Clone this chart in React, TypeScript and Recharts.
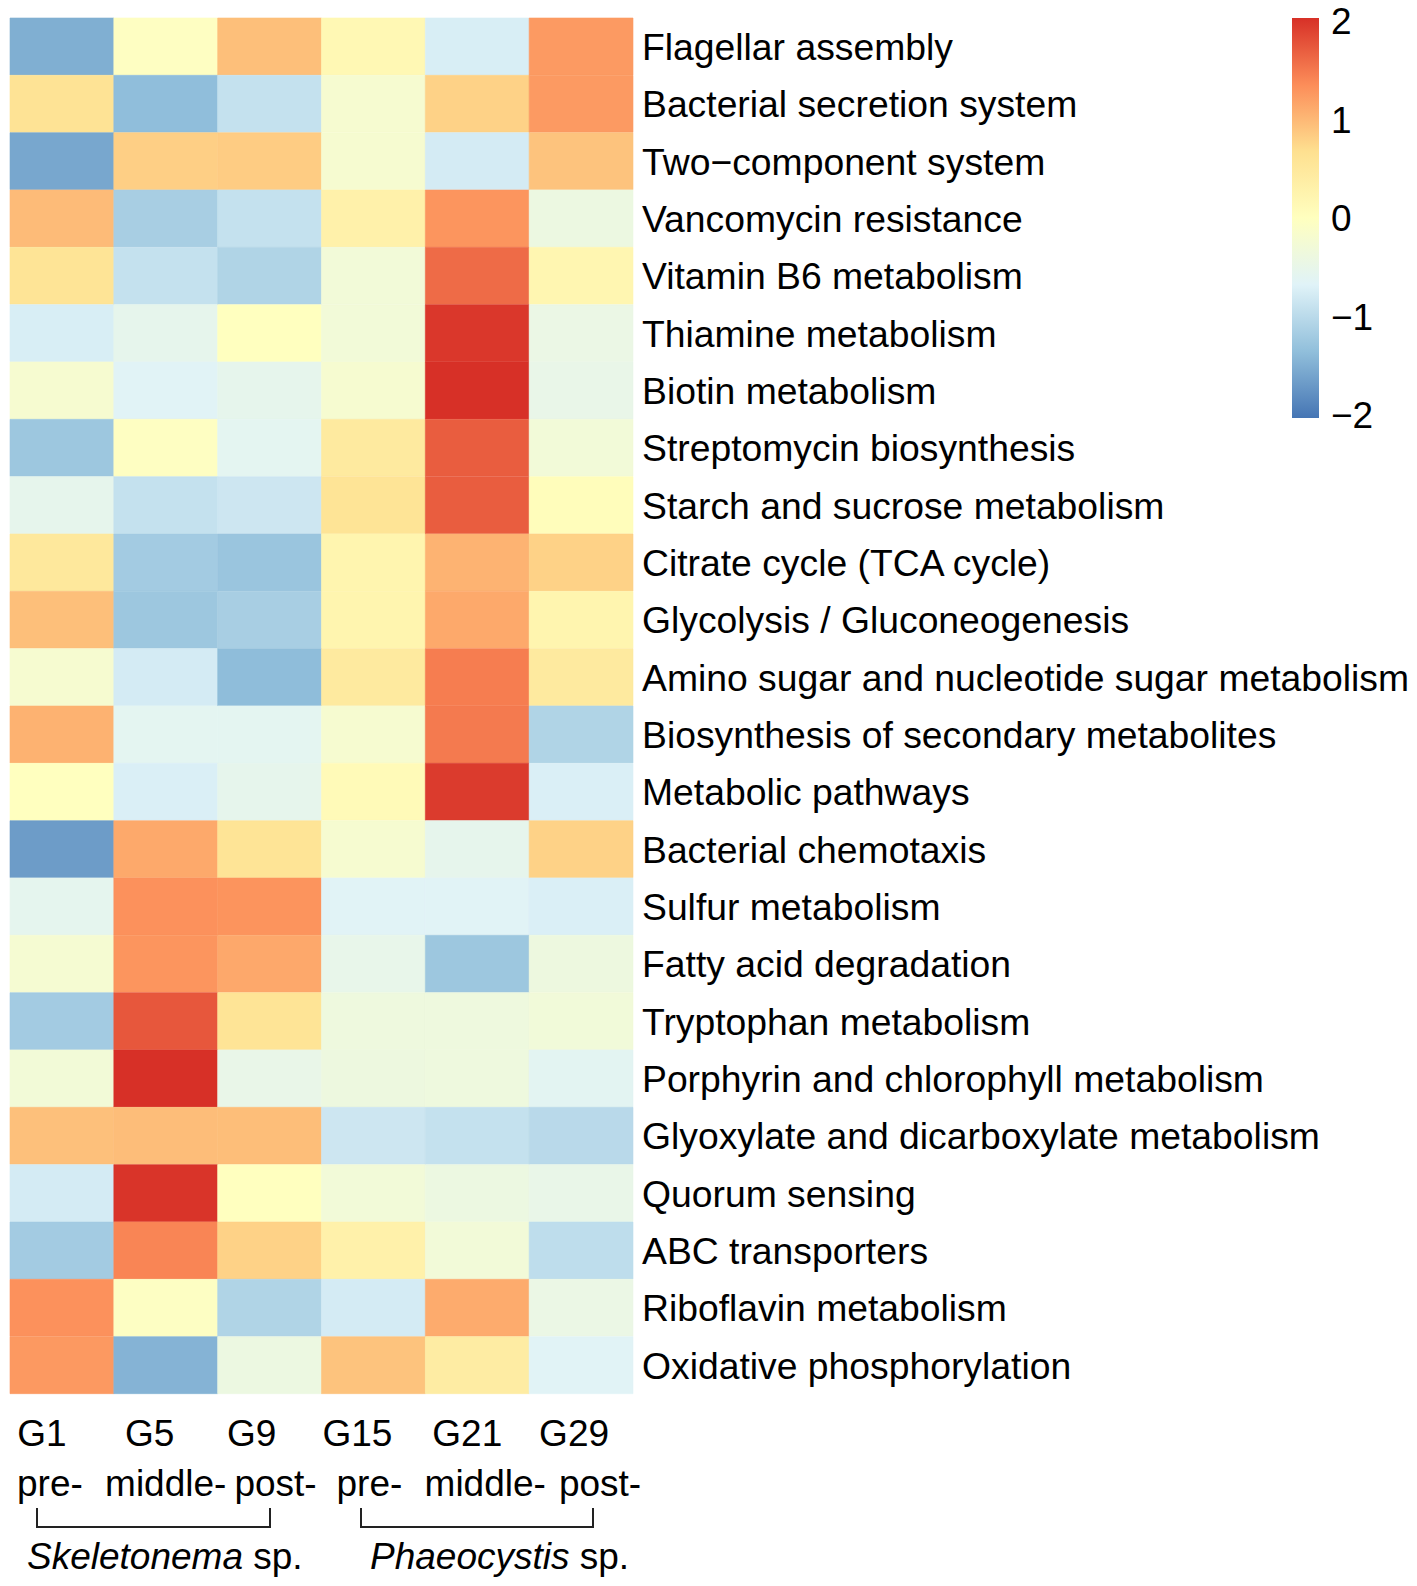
import React from "react";
import { BarChart, Bar, Cell, XAxis, YAxis } from "recharts";

const pathways = [
  "Flagellar assembly",
  "Bacterial secretion system",
  "Two\u2212component system",
  "Vancomycin resistance",
  "Vitamin B6 metabolism",
  "Thiamine metabolism",
  "Biotin metabolism",
  "Streptomycin biosynthesis",
  "Starch and sucrose metabolism",
  "Citrate cycle (TCA cycle)",
  "Glycolysis / Gluconeogenesis",
  "Amino sugar and nucleotide sugar metabolism",
  "Biosynthesis of secondary metabolites",
  "Metabolic pathways",
  "Bacterial chemotaxis",
  "Sulfur metabolism",
  "Fatty acid degradation",
  "Tryptophan metabolism",
  "Porphyrin and chlorophyll metabolism",
  "Glyoxylate and dicarboxylate metabolism",
  "Quorum sensing",
  "ABC transporters",
  "Riboflavin metabolism",
  "Oxidative phosphorylation",
];

const samples = ["G1", "G5", "G9", "G15", "G21", "G29"];
const stages = ["pre-", "middle-", "post-", "pre-", "middle-", "post-"];

// z-scores per sample, same order as pathways
const G1 = [-1.48, 0.6, -1.55, 0.96, 0.58, -0.73, -0.2, -1.23, -0.53, 0.5, 0.93, -0.2, 1.04, 0.0, -1.65, -0.55, -0.22, -1.18, -0.28, 0.92, -0.77, -1.18, 1.3, 1.24];
const G5 = [-0.03, -1.34, 0.8, -1.14, -0.9, -0.53, -0.64, -0.03, -0.9, -1.18, -1.23, -0.77, -0.58, -0.72, 1.11, 1.3, 1.27, 1.72, 2.0, 0.95, 1.97, 1.39, -0.05, -1.44];
const G9 = [0.93, -0.9, 0.83, -0.9, -1.07, 0.0, -0.53, -0.58, -0.83, -1.26, -1.14, -1.35, -0.58, -0.53, 0.58, 1.28, 1.12, 0.58, -0.48, 0.94, 0.0, 0.78, -1.07, -0.4];
const G15 = [0.15, -0.2, -0.2, 0.3, -0.29, -0.29, -0.2, 0.45, 0.58, 0.22, 0.22, 0.45, -0.2, 0.1, -0.2, -0.64, -0.5, -0.36, -0.38, -0.83, -0.29, 0.3, -0.77, 0.9];
const G21 = [-0.73, 0.78, -0.77, 1.27, 1.58, 1.95, 2.0, 1.68, 1.68, 1.03, 1.11, 1.45, 1.47, 1.92, -0.53, -0.64, -1.23, -0.36, -0.36, -0.9, -0.4, -0.29, 1.09, 0.4];
const G29 = [1.23, 1.23, 0.9, -0.4, 0.2, -0.44, -0.48, -0.29, 0.05, 0.78, 0.22, 0.45, -1.07, -0.72, 0.78, -0.72, -0.38, -0.3, -0.6, -1.0, -0.48, -0.95, -0.44, -0.64];

const sampleValues = [G1, G5, G9, G15, G21, G29];
const legendTicks = [2, 1, 0, -1, -2];

// rev(brewer.pal(7, "RdYlBu")) as in pheatmap
const palette = ["#4575B4", "#91BFDB", "#E0F3F8", "#FFFFBF", "#FEE090", "#FC8D59", "#D73027"];

function hexToRgb(h: string) {
  const n = parseInt(h.slice(1), 16);
  return [(n >> 16) & 255, (n >> 8) & 255, n & 255];
}

function colorFor(v: number) {
  const t = Math.max(0, Math.min(1, (v + 2) / 4)) * (palette.length - 1);
  const i = Math.min(palette.length - 2, Math.floor(t));
  const f = t - i;
  const a = hexToRgb(palette[i]);
  const b = hexToRgb(palette[i + 1]);
  const c = a.map((x, k) => Math.round(x + (b[k] - x) * f));
  return `rgb(${c[0]},${c[1]},${c[2]})`;
}

const font = "'Liberation Sans', Arial, sans-serif";
const W = 1409;
const H = 1578;

const rows = pathways.map((p, i) => {
  const row: any = { pathway: p };
  samples.forEach((s, j) => {
    row[s] = sampleValues[j][i];
  });
  return row;
});

const labelShift = [-20, -16, -18, -16, -10, -7];
const stageShift = [-12, 0, 6, -4, 8, 19];

function SampleTick(props: any) {
  const { x, y, payload } = props;
  const j = payload.index;
  return (
    <g>
      <text x={x + labelShift[j]} y={y + 52} textAnchor="middle" fontSize={37} fontFamily={font} fill="#000">
        {samples[j]}
      </text>
      <text x={x + stageShift[j]} y={y + 102} textAnchor="middle" fontSize={37} fontFamily={font} fill="#000">
        {stages[j]}
      </text>
    </g>
  );
}

function PathwayTick(props: any) {
  const { x, y, payload } = props;
  return (
    <text x={x + 9} y={y} dy="0.36em" textAnchor="start" fontSize={37.3} fontFamily={font} fill="#000">
      {payload.value}
    </text>
  );
}

function ColorKey() {
  const top = 13;
  const span = 394;
  return (
    <svg
      width={W}
      height={H}
      style={{ position: "absolute", left: 0, top: 0, pointerEvents: "none", overflow: "visible" }}
    >
      <defs>
        <linearGradient id="key" x1="0" y1="1" x2="0" y2="0">
          {palette.map((c, i) => (
            <stop key={i} offset={i / (palette.length - 1)} stopColor={c} />
          ))}
        </linearGradient>
      </defs>
      <rect x={1284} y={10} width={27} height={400} fill="url(#key)" />
      {legendTicks.map((v) => (
        <text key={v} x={1323} y={top + ((2 - v) / 4) * span} dy="0.36em" fontSize={37} fontFamily={font} fill="#000">
          {v < 0 ? `\u2212${-v}` : v}
        </text>
      ))}
      <g stroke="#222" strokeWidth={2} fill="none">
        <path d="M29 1500 V1519 H262 V1500" />
        <path d="M353 1500 V1519 H585 V1500" />
      </g>
      <text x={19} y={1561} fontSize={37} fontFamily={font} fill="#000">
        <tspan fontStyle="italic">Skeletonema</tspan> sp.
      </text>
      <text x={362} y={1561} fontSize={37} fontFamily={font} fill="#000">
        <tspan fontStyle="italic">Phaeocystis</tspan> sp.
      </text>
    </svg>
  );
}

export default function App() {
  return (
    <div style={{ position: "relative", width: W, height: H, background: "#fff" }}>
      <BarChart
        width={W}
        height={H}
        data={rows}
        layout="vertical"
        barCategoryGap={0}
        margin={{ top: 10, left: 2, right: 0, bottom: 0 }}
      >
        <XAxis
          type="number"
          domain={[0, samples.length]}
          ticks={samples.map((_, j) => j + 0.5)}
          height={192}
          tickSize={0}
          tickMargin={0}
          axisLine={false}
          tickLine={false}
          tick={<SampleTick />}
        />
        <YAxis
          type="category"
          dataKey="pathway"
          orientation="right"
          width={784}
          interval={0}
          tickSize={0}
          tickMargin={0}
          axisLine={false}
          tickLine={false}
          tick={<PathwayTick />}
        />
        {samples.map((s, j) => (
          <Bar key={s} dataKey={() => 1} stackId="cells" isAnimationActive={false}>
            {rows.map((r, i) => (
              <Cell key={i} fill={colorFor(r[s])} stroke={colorFor(r[s])} strokeWidth={0.6} />
            ))}
          </Bar>
        ))}
      </BarChart>
      <ColorKey />
    </div>
  );
}
